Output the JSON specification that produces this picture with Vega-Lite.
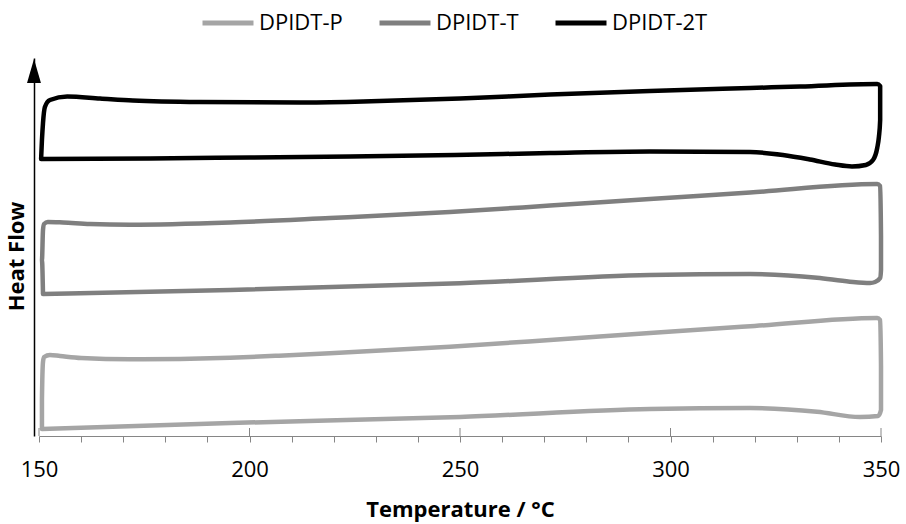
{
  "$schema": "https://vega.github.io/schema/vega-lite/v6.json",
  "width": 842,
  "height": 378,
  "autosize": "none",
  "padding": {"left": 39, "top": 58, "right": 25, "bottom": 88},
  "config": {"view": {"stroke": null}, "font": "Open Sans"},
  "datasets": {
    "curves": [
      {"s": "DPIDT-P", "i": 1, "T": 150.7, "v": 7},
      {"s": "DPIDT-P", "i": 2, "T": 195.4, "v": 13},
      {"s": "DPIDT-P", "i": 3, "T": 250.0, "v": 19},
      {"s": "DPIDT-P", "i": 4, "T": 295.1, "v": 27},
      {"s": "DPIDT-P", "i": 5, "T": 318.9, "v": 28},
      {"s": "DPIDT-P", "i": 6, "T": 334.8, "v": 24.3},
      {"s": "DPIDT-P", "i": 7, "T": 345.0, "v": 19},
      {"s": "DPIDT-P", "i": 8, "T": 349.3, "v": 20},
      {"s": "DPIDT-P", "i": 9, "T": 350.0, "v": 26},
      {"s": "DPIDT-P", "i": 10, "T": 350.0, "v": 70},
      {"s": "DPIDT-P", "i": 11, "T": 349.8, "v": 116},
      {"s": "DPIDT-P", "i": 12, "T": 349.1, "v": 118},
      {"s": "DPIDT-P", "i": 13, "T": 320.0, "v": 110},
      {"s": "DPIDT-P", "i": 14, "T": 295.1, "v": 103},
      {"s": "DPIDT-P", "i": 15, "T": 271.4, "v": 96},
      {"s": "DPIDT-P", "i": 16, "T": 247.6, "v": 89.3},
      {"s": "DPIDT-P", "i": 17, "T": 219.1, "v": 82.7},
      {"s": "DPIDT-P", "i": 18, "T": 207.0, "v": 80.3},
      {"s": "DPIDT-P", "i": 19, "T": 195.4, "v": 78.3},
      {"s": "DPIDT-P", "i": 20, "T": 183.5, "v": 77.1},
      {"s": "DPIDT-P", "i": 21, "T": 171.6, "v": 76.7},
      {"s": "DPIDT-P", "i": 22, "T": 160.0, "v": 78},
      {"s": "DPIDT-P", "i": 23, "T": 155.0, "v": 80},
      {"s": "DPIDT-P", "i": 24, "T": 152.6, "v": 81},
      {"s": "DPIDT-P", "i": 25, "T": 151.2, "v": 79},
      {"s": "DPIDT-P", "i": 26, "T": 150.95, "v": 74},
      {"s": "DPIDT-P", "i": 27, "T": 150.7, "v": 36},
      {"s": "DPIDT-P", "i": 28, "T": 150.7, "v": 7},

      {"s": "DPIDT-T", "i": 1, "T": 150.95, "v": 142},
      {"s": "DPIDT-T", "i": 2, "T": 195.4, "v": 146},
      {"s": "DPIDT-T", "i": 3, "T": 250.0, "v": 152.7},
      {"s": "DPIDT-T", "i": 4, "T": 295.1, "v": 161},
      {"s": "DPIDT-T", "i": 5, "T": 318.9, "v": 162},
      {"s": "DPIDT-T", "i": 6, "T": 334.8, "v": 158.3},
      {"s": "DPIDT-T", "i": 7, "T": 342.6, "v": 154.3},
      {"s": "DPIDT-T", "i": 8, "T": 347.4, "v": 153},
      {"s": "DPIDT-T", "i": 9, "T": 348.6, "v": 154},
      {"s": "DPIDT-T", "i": 10, "T": 349.8, "v": 158},
      {"s": "DPIDT-T", "i": 11, "T": 350.0, "v": 166},
      {"s": "DPIDT-T", "i": 12, "T": 350.0, "v": 200},
      {"s": "DPIDT-T", "i": 13, "T": 349.8, "v": 250},
      {"s": "DPIDT-T", "i": 14, "T": 349.1, "v": 252},
      {"s": "DPIDT-T", "i": 15, "T": 318.9, "v": 243.5},
      {"s": "DPIDT-T", "i": 16, "T": 295.1, "v": 237},
      {"s": "DPIDT-T", "i": 17, "T": 271.4, "v": 230.4},
      {"s": "DPIDT-T", "i": 18, "T": 247.6, "v": 224},
      {"s": "DPIDT-T", "i": 19, "T": 219.1, "v": 218},
      {"s": "DPIDT-T", "i": 20, "T": 195.4, "v": 213.5},
      {"s": "DPIDT-T", "i": 21, "T": 171.6, "v": 211.3},
      {"s": "DPIDT-T", "i": 22, "T": 162.1, "v": 212},
      {"s": "DPIDT-T", "i": 23, "T": 155.7, "v": 213.5},
      {"s": "DPIDT-T", "i": 24, "T": 152.1, "v": 214},
      {"s": "DPIDT-T", "i": 25, "T": 151.2, "v": 212},
      {"s": "DPIDT-T", "i": 26, "T": 150.95, "v": 206},
      {"s": "DPIDT-T", "i": 27, "T": 150.7, "v": 176},
      {"s": "DPIDT-T", "i": 28, "T": 150.95, "v": 142},

      {"s": "DPIDT-2T", "i": 1, "T": 150.5, "v": 277},
      {"s": "DPIDT-2T", "i": 2, "T": 176.4, "v": 277.5},
      {"s": "DPIDT-2T", "i": 3, "T": 200.1, "v": 278.5},
      {"s": "DPIDT-2T", "i": 4, "T": 223.9, "v": 279.5},
      {"s": "DPIDT-2T", "i": 5, "T": 248.8, "v": 281},
      {"s": "DPIDT-2T", "i": 6, "T": 271.4, "v": 283},
      {"s": "DPIDT-2T", "i": 7, "T": 295.1, "v": 284.5},
      {"s": "DPIDT-2T", "i": 8, "T": 318.9, "v": 284},
      {"s": "DPIDT-2T", "i": 9, "T": 326.7, "v": 281},
      {"s": "DPIDT-2T", "i": 10, "T": 333.1, "v": 276.5},
      {"s": "DPIDT-2T", "i": 11, "T": 339.1, "v": 271.5},
      {"s": "DPIDT-2T", "i": 12, "T": 343.1, "v": 269.5},
      {"s": "DPIDT-2T", "i": 13, "T": 346.4, "v": 271},
      {"s": "DPIDT-2T", "i": 14, "T": 348.1, "v": 276},
      {"s": "DPIDT-2T", "i": 15, "T": 349.1, "v": 288},
      {"s": "DPIDT-2T", "i": 16, "T": 349.5, "v": 299},
      {"s": "DPIDT-2T", "i": 17, "T": 349.8, "v": 316},
      {"s": "DPIDT-2T", "i": 18, "T": 349.8, "v": 336},
      {"s": "DPIDT-2T", "i": 19, "T": 349.8, "v": 350},
      {"s": "DPIDT-2T", "i": 20, "T": 349.1, "v": 352},
      {"s": "DPIDT-2T", "i": 21, "T": 330.8, "v": 349.5},
      {"s": "DPIDT-2T", "i": 22, "T": 318.9, "v": 348},
      {"s": "DPIDT-2T", "i": 23, "T": 295.1, "v": 345},
      {"s": "DPIDT-2T", "i": 24, "T": 271.4, "v": 341.5},
      {"s": "DPIDT-2T", "i": 25, "T": 250.0, "v": 337.5},
      {"s": "DPIDT-2T", "i": 26, "T": 227.0, "v": 334.5},
      {"s": "DPIDT-2T", "i": 27, "T": 212.0, "v": 333.5},
      {"s": "DPIDT-2T", "i": 28, "T": 188.2, "v": 334},
      {"s": "DPIDT-2T", "i": 29, "T": 172.3, "v": 335.5},
      {"s": "DPIDT-2T", "i": 30, "T": 164.5, "v": 337.5},
      {"s": "DPIDT-2T", "i": 31, "T": 156.7, "v": 339.5},
      {"s": "DPIDT-2T", "i": 32, "T": 152.6, "v": 336},
      {"s": "DPIDT-2T", "i": 33, "T": 151.4, "v": 329},
      {"s": "DPIDT-2T", "i": 34, "T": 150.95, "v": 313},
      {"s": "DPIDT-2T", "i": 35, "T": 150.7, "v": 296},
      {"s": "DPIDT-2T", "i": 36, "T": 150.5, "v": 277}
    ],
    "majors": [{"T": 150}, {"T": 200}, {"T": 250}, {"T": 300}, {"T": 350}]
  },
  "layer": [
    {
      "data": {"name": "curves"},
      "mark": {"type": "line", "strokeWidth": 4.5, "strokeCap": "round", "strokeJoin": "round", "interpolate": "monotone"},
      "encoding": {
        "x": {
          "field": "T", "type": "quantitative",
          "scale": {"domain": [150, 350], "nice": false, "zero": false},
          "axis": {
            "values": [150,160,170,180,190,200,210,220,230,240,250,260,270,280,290,300,310,320,330,340,350],
            "labelExpr": "datum.value % 50 === 0 ? datum.label : ''",
            "grid": false,
            "tickSize": 6, "tickColor": "#868686", "domainColor": "#868686",
            "labelFont": "Open Sans", "labelFontSize": 22, "labelColor": "#000000", "labelPadding": 17, "labelFlush": false,
            "title": "Temperature / °C", "titleFont": "Open Sans", "titleFontSize": 22, "titleFontWeight": "bold", "titleColor": "#000000", "titlePadding": 19
          }
        },
        "y": {
          "field": "v", "type": "quantitative",
          "scale": {"domain": [0, 378], "nice": false, "zero": false},
          "axis": {
            "offset": 5, "ticks": false, "labels": false, "grid": false,
            "domainColor": "#000000", "domainWidth": 1.5,
            "title": "Heat Flow", "titleFont": "Open Sans", "titleFontSize": 22, "titleFontWeight": "bold", "titleColor": "#000000", "titlePadding": 6, "titleY": 198
          }
        },
        "color": {
          "field": "s", "type": "nominal",
          "scale": {"domain": ["DPIDT-P", "DPIDT-T", "DPIDT-2T"], "range": ["#a5a5a5", "#7f7f7f", "#000000"]},
          "legend": {
            "title": null, "orient": "none", "direction": "horizontal", "legendX": 161, "legendY": -63,
            "symbolType": "stroke", "symbolSize": 2600, "symbolStrokeWidth": 5,
            "labelFont": "Open Sans", "labelFontSize": 22, "labelColor": "#000000", "labelOffset": 3, "columnPadding": 26
          }
        },
        "order": {"field": "i", "type": "quantitative"}
      }
    },
    {
      "data": {"name": "majors"},
      "mark": {"type": "rule", "color": "#868686", "strokeWidth": 1},
      "encoding": {
        "x": {"field": "T", "type": "quantitative"},
        "y": {"datum": 0},
        "y2": {"datum": 8}
      }
    },
    {
      "data": {"values": [{}]},
      "mark": {"type": "point", "shape": "M0,-1L0.58,1L-0.58,1Z", "size": 576, "filled": true, "color": "#000000", "opacity": 1},
      "encoding": {
        "x": {"datum": 148.81, "type": "quantitative"},
        "y": {"datum": 365, "type": "quantitative"}
      }
    }
  ]
}
